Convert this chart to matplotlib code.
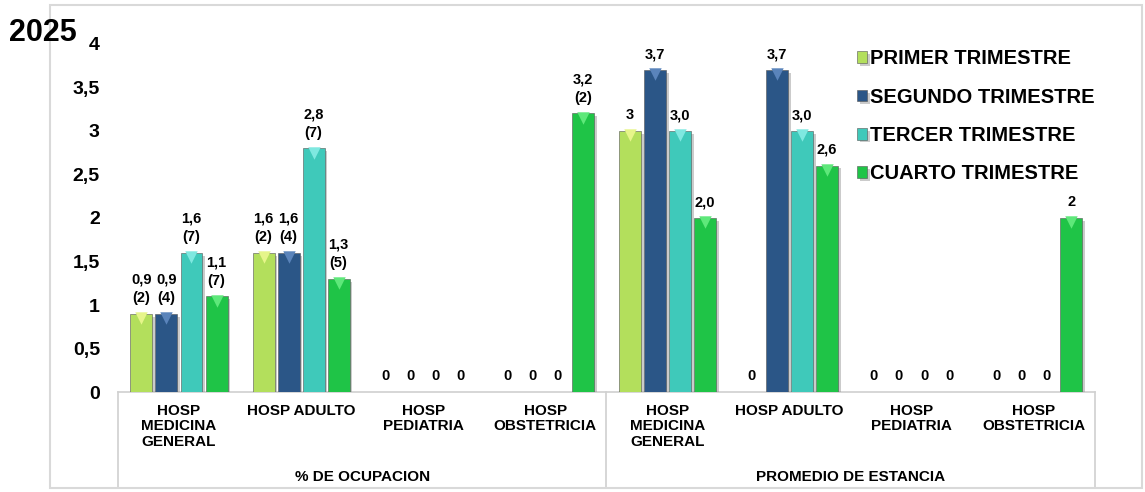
import numpy as np
import matplotlib
matplotlib.use("Agg")
import matplotlib.pyplot as plt
import matplotlib.patheffects as pe
from matplotlib.lines import Line2D

plt.rcParams['font.family'] = ['Liberation Sans', 'DejaVu Sans']
plt.rcParams['font.weight'] = 'bold'

# data
categories = ["HOSP\nMEDICINA\nGENERAL", "HOSP ADULTO", "HOSP\nPEDIATRIA", "HOSP\nOBSTETRICIA"] * 2
groups = ["% DE OCUPACION", "PROMEDIO DE ESTANCIA"]
series = ["PRIMER TRIMESTRE", "SEGUNDO TRIMESTRE", "TERCER TRIMESTRE", "CUARTO TRIMESTRE"]
primer = [0.9, 1.6, 0, 0, 3.0, 0, 0, 0]
segundo = [0.9, 1.6, 0, 0, 3.7, 3.7, 0, 0]
tercer = [1.6, 2.8, 0, 0, 3.0, 3.0, 0, 0]
cuarto = [1.1, 1.3, 0, 3.2, 2.0, 2.6, 0, 2.0]
labels_primer = ["0,9\n(2)", "1,6\n(2)", "0", "0", "3", "0", "0", "0"]
labels_segundo = ["0,9\n(4)", "1,6\n(4)", "0", "0", "3,7", "3,7", "0", "0"]
labels_tercer = ["1,6\n(7)", "2,8\n(7)", "0", "0", "3,0", "3,0", "0", "0"]
labels_cuarto = ["1,1\n(7)", "1,3\n(5)", "0", "3,2\n(2)", "2,0", "2,6", "0", "2"]

colors = ["#b3df5c", "#2b5687", "#3fc9ba", "#1fc447"]
tops = ["#e6f58a", "#5a84bb", "#7fe8e0", "#5ee87a"]

values = [primer, segundo, tercer, cuarto]
labels = [labels_primer, labels_segundo, labels_tercer, labels_cuarto]

fig = plt.figure(figsize=(11.45, 4.92), dpi=100)
ax = fig.add_axes([0.103, 0.203, 0.853, 0.708])

x = np.arange(len(categories))
w = 0.205
offs = [-1.5 * w, -0.5 * w, 0.5 * w, 1.5 * w]
bw = 0.18

for vals, labs, c, tc, o, name in zip(values, labels, colors, tops, offs, series):
    bars = ax.bar(x + o, vals, bw, color=c, edgecolor='#555555', linewidth=0.4,
                  label=name, zorder=3)
    for b in bars:
        b.set_path_effects([pe.SimplePatchShadow(offset=(2, -2), shadow_rgbFace='#999999', alpha=0.5),
                            pe.Normal()])
    v = np.array(vals)
    nz = v > 0
    ax.scatter((x + o)[nz], v[nz] - 0.05, marker='v', s=80, color=tc, zorder=4, linewidths=0)
    for xi, vi, lab in zip(x + o, vals, labs):
        ax.text(xi, vi + 0.1, lab, ha='center', va='bottom', fontsize=10.5,
                fontweight='bold', linespacing=1.4, zorder=5)

ax.set_xlim(-0.5, len(categories) - 0.5)
ax.set_ylim(0, 4)
ticks = np.arange(0, 4.01, 0.5)
ax.set_yticks(ticks)
ax.set_yticklabels([f"{t:g}".replace(".", ",") for t in ticks],
                   fontsize=14, fontweight='bold')
ax.tick_params(axis='y', length=0, pad=13)
ax.set_xticks([])
for s in ['top', 'right', 'left']:
    ax.spines[s].set_visible(False)
ax.spines['bottom'].set_color('#d0d0d0')
ax.spines['bottom'].set_linewidth(1.2)

# category box below axis
trans = ax.get_xaxis_transform()
for xb in [-0.5, 3.5, 7.5]:
    ax.add_line(Line2D([xb, xb], [0, -0.275], transform=trans, color='#d0d0d0',
                       lw=1.2, clip_on=False))
for xi, cat in zip(x, categories):
    ax.text(xi, -0.035, cat, transform=trans, ha='center', va='top', fontsize=11,
            fontweight='bold', linespacing=1.1)
for gi, g in enumerate(groups):
    ax.text(1.5 + 4 * gi, -0.243, g, transform=trans, ha='center', va='center',
            fontsize=11, fontweight='bold')

leg = ax.legend(loc='upper left', bbox_to_anchor=(0.738, 1.036), frameon=False,
                prop={'size': 14.5, 'weight': 'bold'}, handlelength=0.5,
                handleheight=0.5, handletextpad=0.15, labelspacing=0.96)

fig.text(0.008, 0.932, "2025", fontsize=22, fontweight='bold', ha='left', va='center')

# outer border
fig.add_artist(plt.Rectangle((0.044, 0.008), 0.953, 0.982, transform=fig.transFigure,
                             fill=False, edgecolor='#d9d9d9', lw=1.5))

fig.savefig("out.png", dpi=100)
